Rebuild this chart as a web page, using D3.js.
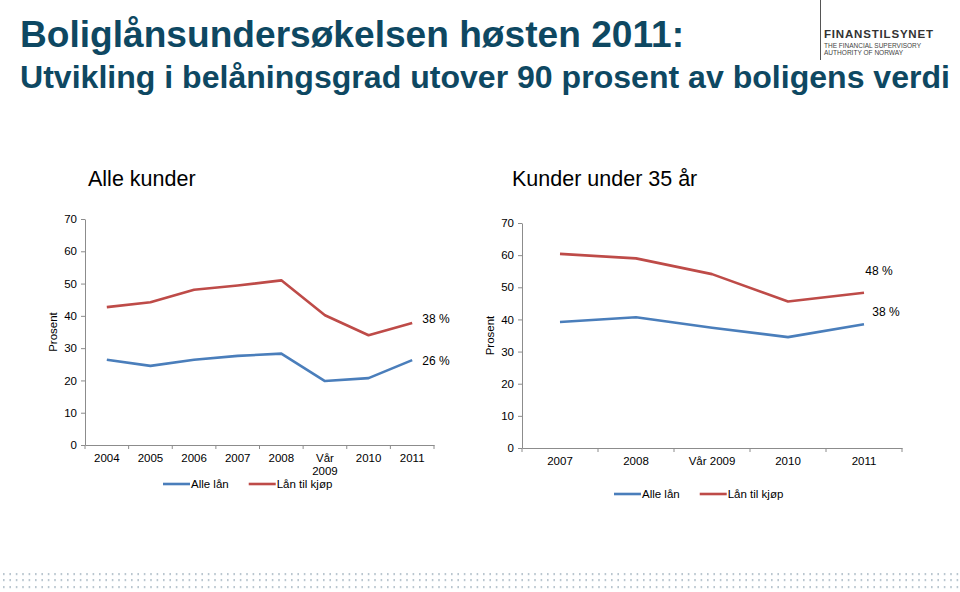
<!DOCTYPE html>
<html><head><meta charset="utf-8">
<script src="https://cdn.jsdelivr.net/npm/d3@7"></script>
<style>body{margin:0;background:#fff}svg{display:block}text{font-family:"Liberation Sans",Arial,sans-serif}</style>
</head><body><svg id="c" width="960" height="592"></svg>
<script>
const catsAll = ["2004","2005","2006","2007","2008","Vår 2009","2010","2011"];
const allLanAll = [26.4,24.5,26.4,27.6,28.3,19.8,20.7,26.3];
const kjopAll = [42.7,44.2,48.1,49.4,51.0,40.2,34.0,37.8];
const catsYoung = ["2007","2008","Vår 2009","2010","2011"];
const allLanYoung = [39.2,40.7,37.4,34.5,38.5];
const kjopYoung = [60.4,59.0,54.1,45.6,48.3];
const yTicks = [0,10,20,30,40,50,60,70];
const seriesNames = ["Alle lån","Lån til kjøp"];
const endLabelsAll = ["26 %","38 %"];
const endLabelsYoung = ["38 %","48 %"];

const svg = d3.select("#c");
const titleColor = "#0e4862";
const colors = ["#4a7ebb","#be4b48"];

svg.append("text").attr("x",20).attr("y",47).attr("font-size",36).attr("font-weight","bold").attr("fill",titleColor)
  .attr("textLength",664).attr("lengthAdjust","spacingAndGlyphs").text("Boliglånsundersøkelsen høsten 2011:");
svg.append("text").attr("x",20).attr("y",88).attr("font-size",31.6).attr("font-weight","bold").attr("fill",titleColor)
  .attr("textLength",930).attr("lengthAdjust","spacingAndGlyphs").text("Utvikling i belåningsgrad utover 90 prosent av boligens verdi");

// logo
svg.append("line").attr("x1",820.5).attr("x2",820.5).attr("y1",0).attr("y2",60).attr("stroke","#555").attr("stroke-width",1);
svg.append("text").attr("x",824).attr("y",38).attr("font-size",11.5).attr("font-weight","bold").attr("fill","#333")
  .attr("textLength",109).attr("lengthAdjust","spacing").text("FINANSTILSYNET");
svg.append("text").attr("x",824).attr("y",48).attr("font-size",7).attr("fill","#444").attr("textLength",97).attr("lengthAdjust","spacingAndGlyphs").text("THE FINANCIAL SUPERVISORY");
svg.append("text").attr("x",824).attr("y",55).attr("font-size",7).attr("fill","#444").attr("textLength",79).attr("lengthAdjust","spacingAndGlyphs").text("AUTHORITY OF NORWAY");

// footer dots
const dotCols = d3.range(0, 150);
[574,580,587].forEach(yy=>{
  svg.append("g").selectAll("rect").data(dotCols).join("rect")
    .attr("x",d=>3+d*6.4).attr("y",yy-1).attr("width",1.6).attr("height",2.2).attr("fill","#b9c6cf");
});

function chart(o){
  const g = svg.append("g");
  g.append("text").attr("x",o.subX).attr("y",186).attr("font-size",21.5).attr("fill","#000").text(o.sub);
  const x = d3.scaleBand().domain(o.cats).range([o.x0,o.x1]);
  const y = d3.scaleLinear().domain([0,70]).range([o.y0,o.y1]);
  const yAxis = g.append("g").attr("transform",`translate(${o.x0},0)`).call(d3.axisLeft(y).tickValues(yTicks).tickSize(4).tickSizeOuter(0));
  yAxis.select(".domain").attr("stroke","#8c8c8c");
  yAxis.selectAll(".tick line").attr("stroke","#8c8c8c");
  yAxis.selectAll(".tick text").attr("font-size",11.5).attr("font-family","Liberation Sans, Arial").attr("fill","#000").attr("x",-8);
  const xAxis = g.append("g").attr("transform",`translate(0,${o.y0})`).call(d3.axisBottom(x).tickSize(0).tickSizeOuter(0));
  xAxis.select(".domain").attr("stroke","#8c8c8c");
  xAxis.selectAll(".tick text").attr("font-size",11.5).attr("font-family","Liberation Sans, Arial").attr("fill","#000").attr("y",o.xLabY).attr("dy","0.71em");
  if(o.wrap){
    xAxis.selectAll(".tick text").each(function(d){
      if(d.indexOf(" ")>0){
        const t=d3.select(this); const parts=d.split(" "); t.text(null);
        parts.forEach((p,i)=>t.append("tspan").attr("x",0).attr("dy",i===0?"0.71em":"1.1em").text(p));
      }
    });
  }
  const bounds = o.cats.map(c=>x(c)).concat([o.x1]);
  g.append("g").selectAll("line").data(bounds).join("line")
    .attr("x1",d=>d).attr("x2",d=>d).attr("y1",o.y0).attr("y2",o.y0+4).attr("stroke","#8c8c8c");
  g.append("text").attr("transform",`translate(${o.x0-28},${(o.y0+o.y1)/2}) rotate(-90)`).attr("text-anchor","middle").attr("font-size",11.5).attr("fill","#000").text("Prosent");
  const line = d3.line().x((d,i)=>x(o.cats[i])+x.bandwidth()/2).y(d=>y(d));
  [o.s0,o.s1].forEach((s,k)=>{
    g.append("path").attr("d",line(s)).attr("fill","none").attr("stroke",colors[k]).attr("stroke-width",2.6).attr("stroke-linejoin","round");
  });
  o.labels.forEach((l,k)=>{
    g.append("text").attr("x",o.labX[k]).attr("y",o.labY[k]).attr("text-anchor","middle").attr("font-size",12).attr("fill","#000").attr("dy","0.35em").text(l);
  });
  let lx = o.legX;
  seriesNames.forEach((n,k)=>{
    g.append("line").attr("x1",lx).attr("x2",lx+27).attr("y1",o.legY).attr("y2",o.legY).attr("stroke",colors[k]).attr("stroke-width",2.6);
    const t = g.append("text").attr("x",lx+28).attr("y",o.legY).attr("dy","0.35em").attr("font-size",11.5).attr("fill","#000").text(n);
    lx += 28 + t.node().getComputedTextLength() + 20;
  });
}

chart({cats:catsAll,s0:allLanAll,s1:kjopAll,x0:85,x1:434,y0:445,y1:219,sub:"Alle kunder",subX:88,
  wrap:true,xLabY:9,labels:endLabelsAll,labX:[436,436],labY:[361,319],legX:163,legY:484});
chart({cats:catsYoung,s0:allLanYoung,s1:kjopYoung,x0:522,x1:902,y0:448,y1:223,sub:"Kunder under 35 år",subX:512,
  wrap:false,xLabY:9,labels:endLabelsYoung,labX:[886,879],labY:[312,271],legX:614,legY:494});
</script></body></html>
